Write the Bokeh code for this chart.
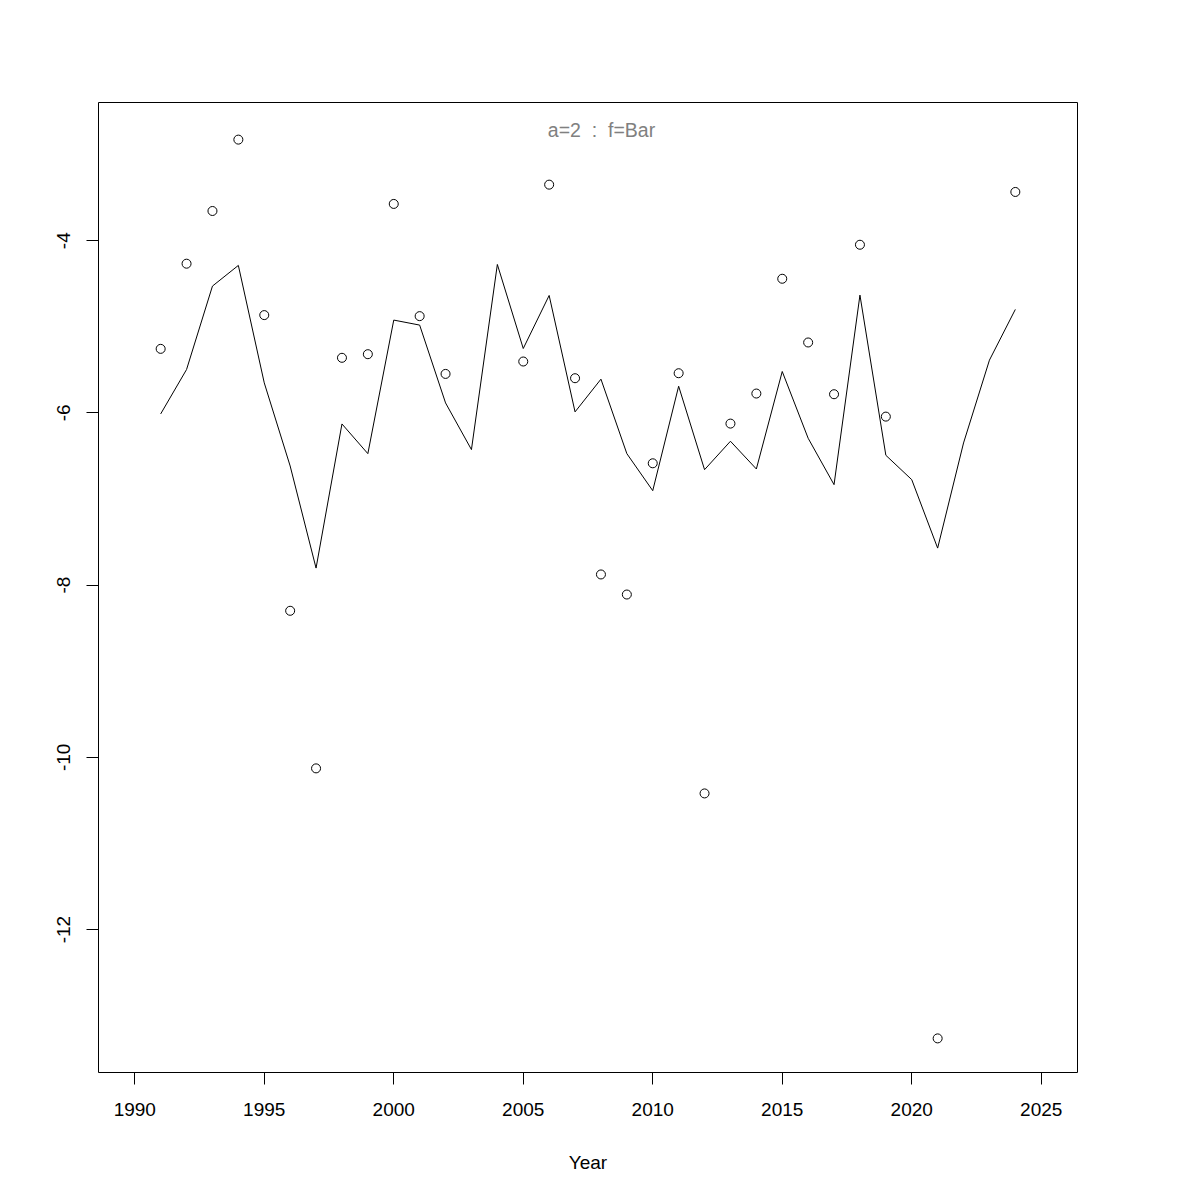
import math
from bokeh.plotting import figure
from bokeh.models import FixedTicker, Label
from bokeh.embed import file_html
from bokeh.resources import INLINE

# ---- data ----
years = list(range(1991, 2025))
fit_values = [-6.012, -5.496, -4.527, -4.287, -5.651, -6.616, -7.802, -6.128, -6.473, -4.922,
              -4.980, -5.884, -6.426, -4.276, -5.252, -4.636, -5.988, -5.608, -6.473, -6.903,
              -5.690, -6.659, -6.329, -6.651, -5.519, -6.294, -6.833, -4.632, -6.492, -6.775,
              -7.570, -6.349, -5.387, -4.798]
obs_years = [1991, 1992, 1993, 1994, 1995, 1996, 1997, 1998, 1999, 2000, 2001, 2002,
             2005, 2006, 2007, 2008, 2009, 2010, 2011, 2012, 2013, 2014, 2015, 2016,
             2017, 2018, 2019, 2021, 2024]
obs_values = [-5.256, -4.267, -3.655, -2.826, -4.864, -8.298, -10.128, -5.360, -5.318, -3.573,
              -4.876, -5.547, -5.403, -3.349, -5.597, -7.876, -8.109, -6.585, -5.539, -10.419,
              -6.124, -5.775, -4.442, -5.182, -5.783, -4.047, -6.043, -13.264, -3.434]
x_ticks = [1990, 1995, 2000, 2005, 2010, 2015, 2020, 2025]
y_ticks = [-4, -6, -8, -10, -12]
y_tick_labels = ["-4", "-6", "-8", "-10", "-12"]
title_text = "a=2\u00a0\u00a0:\u00a0\u00a0f=Bar"
x_label = "Year"

FONT = "Liberation Sans"
X_MIN, X_MAX = 1988.6, 2026.4
Y_MIN, Y_MAX = -13.66, -2.395

p = figure(width=1184, height=1184, output_backend="svg", toolbar_location=None,
           x_range=(X_MIN, X_MAX), y_range=(Y_MIN, Y_MAX),
           min_border_left=98, min_border_right=107, min_border_top=102, min_border_bottom=112)
p.background_fill_color = "white"
p.border_fill_color = "white"
p.outline_line_color = "black"
p.outline_line_width = 1
p.grid.visible = False

p.line(years, fit_values, line_color="black", line_width=1)
p.scatter(obs_years, obs_values, marker="circle", size=9, fill_color=None,
          line_color="black", line_width=1)

for ax in (p.xaxis[0], p.yaxis[0]):
    ax.axis_line_color = None
    ax.major_tick_line_color = "black"
    ax.major_tick_out = 12
    ax.major_tick_in = 0
    ax.minor_tick_line_color = None
    ax.major_label_text_font = FONT
    ax.major_label_text_font_size = "19px"
    ax.major_label_text_color = "black"

p.xaxis[0].ticker = FixedTicker(ticks=x_ticks)
p.xaxis[0].major_label_standoff = 18
p.xaxis[0].axis_label = x_label
p.xaxis[0].axis_label_text_font = FONT
p.xaxis[0].axis_label_text_font_size = "19px"
p.xaxis[0].axis_label_text_font_style = "normal"
p.xaxis[0].axis_label_text_color = "black"
p.xaxis[0].axis_label_standoff = 33

p.yaxis[0].ticker = FixedTicker(ticks=y_ticks)
p.yaxis[0].major_label_overrides = {t: s for t, s in zip(y_ticks, y_tick_labels)}
p.yaxis[0].major_label_orientation = "parallel"
p.yaxis[0].major_label_standoff = 16

p.add_layout(Label(x=2008.02, y=-2.709, text=title_text, text_align="center",
                   text_baseline="alphabetic", text_font=FONT, text_font_size="19.5px",
                   text_color="#808080"))

open("out.html", "w").write(file_html(p, INLINE))
